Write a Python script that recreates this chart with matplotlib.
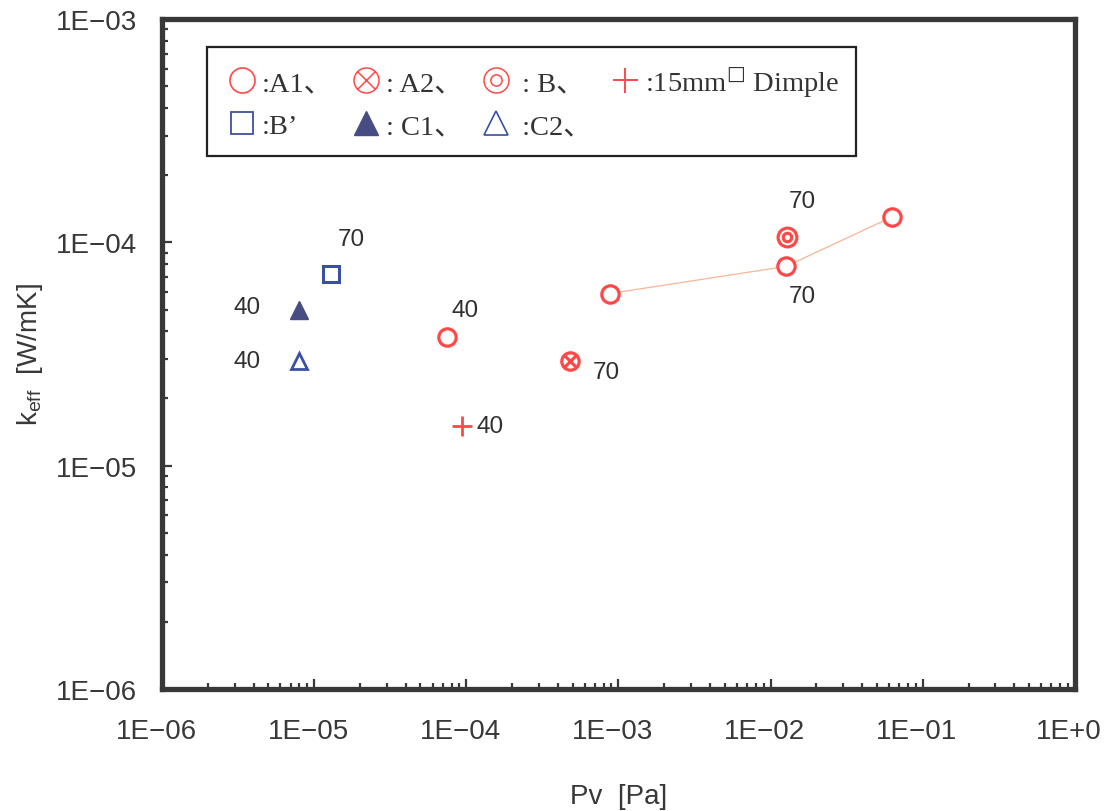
import numpy as np
import matplotlib
matplotlib.use('Agg')
import matplotlib.pyplot as plt
import matplotlib.transforms as mtransforms
from matplotlib.lines import Line2D
from matplotlib.path import Path

# data (Pv [Pa], keff [W/mK])
a1_x = [7.5e-5, 8.8e-4, 1.26e-2, 6.3e-2]
a1_y = [3.75e-5, 5.9e-5, 7.8e-5, 1.30e-4]
a1_line_x = [8.8e-4, 1.26e-2, 6.3e-2]
a1_line_y = [5.9e-5, 7.8e-5, 1.30e-4]
a2_x = [4.8e-4]
a2_y = [2.95e-5]
b_x = [1.28e-2]
b_y = [1.06e-4]
dimple_x = [9.4e-5]
dimple_y = [1.5e-5]
bp_x = [1.29e-5]
bp_y = [7.2e-5]
c1_x = [7.9e-6]
c1_y = [5.0e-5]
c2_x = [7.9e-6]
c2_y = [2.95e-5]

# point labels (temperature) and the point they belong to
lab_text = ['70', '40', '40', '40', '40', '70', '70', '70']
lab_x = [1.29e-5, 7.9e-6, 7.9e-6, 7.5e-5, 9.4e-5, 4.8e-4, 1.28e-2, 1.26e-2]
lab_y = [7.2e-5, 5.0e-5, 2.95e-5, 3.75e-5, 1.5e-5, 2.95e-5, 1.06e-4, 7.8e-5]
lab_off = [(15, 25), (-37, 2), (-37, 0), (13, 20), (20, 0), (26, -8), (11, 26), (12, -21)]

xticks = [1e-6, 1e-5, 1e-4, 1e-3, 1e-2, 1e-1, 1e0]
xticklabels = ['1E\u221206', '1E\u221205', '1E\u221204', '1E\u221203', '1E\u221202', '1E\u221201', '1E+0']
yticks = [1e-6, 1e-5, 1e-4, 1e-3]
yticklabels = ['1E\u221206', '1E\u221205', '1E\u221204', '1E\u221203']

red = '#ff4848'
blue = '#3c50a0'
navy = '#474c82'
ink = '#383838'
sans = ['Liberation Sans', 'DejaVu Sans']
serif = ['Liberation Serif', 'Noto Sans CJK JP', 'DejaVu Sans']

# circle with a cross inside, and a double circle
c = Path.unit_circle()
d = 0.707
cross = Path([(-d, -d), (d, d), (-d, d), (d, -d)],
             [Path.MOVETO, Path.LINETO, Path.MOVETO, Path.LINETO])
crossed_circle = Path.make_compound_path(c, cross)
inner = Path(c.vertices * 0.45, c.codes)
double_circle = Path.make_compound_path(c, inner)

fig = plt.figure(figsize=(11.04, 8.12), dpi=100)
ax = fig.add_axes([0.1467, 0.1502, 0.827, 0.8252])
ax.set_xscale('log')
ax.set_yscale('log')
ax.set_xlim(1e-6, 1e0)
ax.set_ylim(1e-6, 1e-3)

ax.plot(a1_line_x, a1_line_y, color='#f7b496', lw=0.9, zorder=2)
ax.plot(a1_x, a1_y, 'o', ms=12.5, mfc='white', mec=red, mew=2.3, ls='none', zorder=3)
ax.plot(a2_x, a2_y, marker=crossed_circle, ms=12.5, mfc='white', mec=red, mew=2.3,
        ls='none', zorder=3)
ax.plot(b_x, b_y, marker=double_circle, ms=13.5, mfc='white', mec=red, mew=2.3,
        ls='none', zorder=3)
ax.plot(dimple_x, dimple_y, '+', ms=14, mec=red, mew=2, ls='none', zorder=3)
ax.plot(bp_x, bp_y, 's', ms=12, mfc='white', mec=blue, mew=2.2, ls='none', zorder=3)
ax.plot(c1_x, c1_y, '^', ms=13, mfc=navy, mec=navy, mew=1, ls='none', zorder=3)
ax.plot(c2_x, c2_y, '^', ms=12, mfc='white', mec=blue, mew=2, ls='none', zorder=3)

for t, x, y, off in zip(lab_text, lab_x, lab_y, lab_off):
    ax.annotate(t, (x, y), xytext=off, textcoords='offset points',
                ha='center', va='center', fontsize=17.5, color='#303030', family=sans)

ax.set_xticks(xticks)
ax.set_xticklabels(xticklabels, family=sans, fontsize=20, color=ink)
ax.set_yticks(yticks)
ax.set_yticklabels(yticklabels, family=sans, fontsize=20, color=ink)
ax.tick_params(which='both', direction='in', color=ink, top=False, right=False)
ax.tick_params(axis='x', which='major', length=7, width=1.6, pad=21)
ax.tick_params(axis='y', which='major', length=7, width=1.6, pad=18)
ax.tick_params(which='minor', length=4, width=1.6)
shift = mtransforms.ScaledTranslation(-6 / 100, 0, fig.dpi_scale_trans)
for lbl in ax.get_xticklabels():
    lbl.set_transform(lbl.get_transform() + shift)
for s in ax.spines.values():
    s.set_linewidth(3.8)
    s.set_color(ink)

ax.set_xlabel('Pv  [Pa]', family=sans, fontsize=20, color=ink, labelpad=28)
ax.set_ylabel(r'k$_{\mathregular{eff}}$  [W/mK]', family=sans, fontsize=20,
              color=ink, labelpad=8)

handles = [
    Line2D([], [], marker='o', ms=18, mfc='white', mec=red, mew=1.2, ls='none'),
    Line2D([], [], marker='s', ms=16, mfc='white', mec=blue, mew=1.3, ls='none'),
    Line2D([], [], marker=crossed_circle, ms=18, mfc='white', mec=red, mew=1.1, ls='none'),
    Line2D([], [], marker='^', ms=17, mfc=navy, mec=navy, ls='none'),
    Line2D([], [], marker=double_circle, ms=18, mfc='white', mec=red, mew=1.1, ls='none'),
    Line2D([], [], marker='^', ms=17, mfc='white', mec=blue, mew=1.2, ls='none'),
    Line2D([], [], marker='+', ms=18, mec=red, mew=1.4, ls='none'),
]
labels = [':A1\u3001', ':B\u2019', ': A2\u3001', ': C1\u3001', ' : B\u3001', ' :C2\u3001',
          ':15mm$^{\u25A1}$ Dimple']
leg = ax.legend(handles, labels, ncol=4, loc='upper left', bbox_to_anchor=(0.049, 0.958),
                borderaxespad=0, fancybox=False, edgecolor='#222222', framealpha=1,
                prop={'family': serif, 'size': 20.5}, handletextpad=0.05,
                columnspacing=0.5, labelspacing=0.6, borderpad=0.6, handlelength=1.3)
leg.get_frame().set_linewidth(1.6)
for t in leg.get_texts():
    t.set_color('#333333')

fig.savefig('out.png', dpi=100)
